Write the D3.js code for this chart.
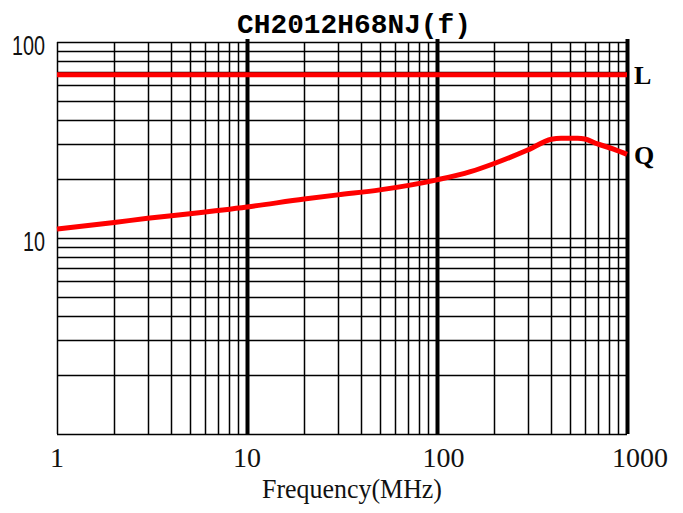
<!DOCTYPE html>
<html>
<head>
<meta charset="utf-8">
<script src="https://cdn.jsdelivr.net/npm/d3@7"></script>
<style>
  html, body { margin: 0; padding: 0; background: #fff; }
  svg { display: block; }
</style>
</head>
<body>
<svg id="chart" width="683" height="513"></svg>
<script>
// ---- data ----
const title = "CH2012H68NJ(f)";
const xLabel = "Frequency(MHz)";
const xTickValues = [1, 10, 100, 1000];
const yTickValues = [10, 100];
const freqL = [1, 1000];
const valuesL = [68, 68];
const freqQ = [1, 2, 3, 5, 10, 20, 30, 50, 100, 150, 200, 300, 400, 450, 550, 600, 700, 850, 1000];
const valuesQ = [11.1, 12.0, 12.6, 13.3, 14.4, 15.8, 16.6, 17.6, 19.8, 21.8, 24.0, 28.1, 31.9, 32.3, 32.3, 32.0, 30.2, 28.4, 26.7];
const seriesNames = ["L", "Q"];

// ---- layout ----
const svg = d3.select("#chart");
const pLeft = 57, pRight = 627, pTop = 42, pBottom = 434;

const x = d3.scaleLog().domain([1, 1000]).range([pLeft, pRight]);
const y = d3.scaleLog().domain([1, 100]).range([pBottom, pTop]);

// grid values
const xGrid = [];
[1, 10, 100].forEach(d => { for (let k = 1; k <= 9; k++) xGrid.push(d * k); });
xGrid.push(1000);
const yGrid = [];
[1, 10].forEach(d => { for (let k = 1; k <= 9; k++) yGrid.push(d * k); });
yGrid.push(100);
const majorX = new Set([10, 100, 1000]);

const g = svg.append("g");

// horizontal grid
g.selectAll("line.hg").data(yGrid).enter().append("line")
  .attr("x1", pLeft).attr("x2", pRight)
  .attr("y1", d => Math.round(y(d)) + 0.5).attr("y2", d => Math.round(y(d)) + 0.5)
  .attr("stroke", "#000").attr("stroke-width", 1.5);

// vertical grid
g.selectAll("line.vg").data(xGrid).enter().append("line")
  .attr("x1", d => Math.round(x(d)) + 0.5).attr("x2", d => Math.round(x(d)) + 0.5)
  .attr("y1", d => majorX.has(d) ? pTop - 3 : pTop).attr("y2", pBottom)
  .attr("stroke", "#000")
  .attr("stroke-width", d => majorX.has(d) ? 4 : 1.5);

// series
const line = d3.line().x(d => x(d[0])).y(d => y(d[1]));
const dataL = freqL.map((f, i) => [f, valuesL[i]]);
const dataQ = freqQ.map((f, i) => [f, valuesQ[i]]);

g.append("path").datum(dataL)
  .attr("d", line)
  .attr("fill", "none").attr("stroke", "#ff0000").attr("stroke-width", 5);

g.append("path").datum(dataQ)
  .attr("d", line.curve(d3.curveMonotoneX))
  .attr("fill", "none").attr("stroke", "#ff0000").attr("stroke-width", 5)
  .attr("stroke-linejoin", "round");

// series labels
const ends = [dataL[dataL.length - 1], dataQ[dataQ.length - 1]];
g.selectAll("text.sl").data(seriesNames).enter().append("text")
  .attr("x", (d, i) => x(ends[i][0]) + 7)
  .attr("y", (d, i) => y(ends[i][1]))
  .attr("dy", "0.36em")
  .attr("font-family", "Liberation Serif, serif")
  .attr("font-weight", "bold")
  .attr("font-size", 26)
  .attr("fill", "#000")
  .text(d => d);

// x tick labels
g.selectAll("text.xt").data(xTickValues).enter().append("text")
  .attr("x", d => x(d) + Math.max(0, String(d).length - 2) * 6.5)
  .attr("y", 467)
  .attr("text-anchor", "middle")
  .attr("font-family", "Liberation Serif, serif")
  .attr("font-size", 28)
  .attr("fill", "#111")
  .text(d => String(d));

// y tick labels
g.selectAll("text.yt").data(yTickValues).enter().append("text")
  .attr("x", pLeft - 12)
  .attr("y", d => y(d) + 3)
  .attr("dy", "0.36em")
  .attr("text-anchor", "end")
  .attr("font-family", "Liberation Sans, sans-serif")
  .attr("font-size", 27)
  .attr("textLength", d => String(d).length * 11)
  .attr("lengthAdjust", "spacingAndGlyphs")
  .attr("fill", "#111")
  .text(d => String(d));

// x axis title
svg.append("text")
  .attr("x", 352).attr("y", 498)
  .attr("text-anchor", "middle")
  .attr("font-family", "Liberation Serif, serif")
  .attr("font-size", 27)
  .attr("textLength", 180)
  .attr("lengthAdjust", "spacingAndGlyphs")
  .attr("fill", "#111")
  .text(xLabel);

// chart title
svg.append("text")
  .attr("x", 354).attr("y", 33)
  .attr("text-anchor", "middle")
  .attr("font-family", "Liberation Mono, monospace")
  .attr("font-weight", "bold")
  .attr("font-size", 27)
  .attr("textLength", 234)
  .attr("lengthAdjust", "spacingAndGlyphs")
  .attr("fill", "#000")
  .text(title);
</script>
</body>
</html>
